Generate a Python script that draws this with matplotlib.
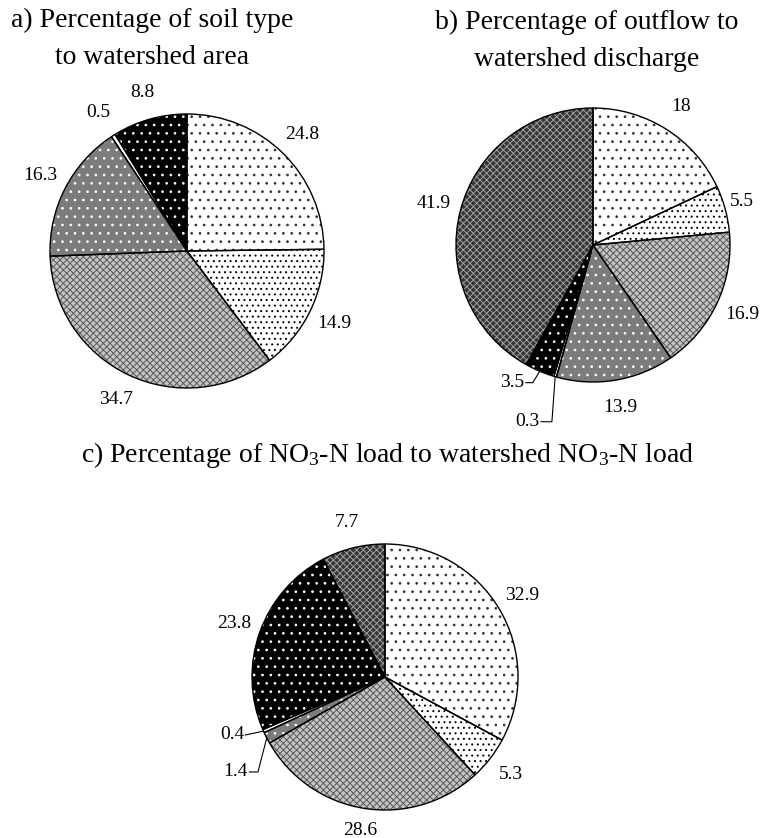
import matplotlib
matplotlib.use("Agg")
import matplotlib.pyplot as plt
import numpy as np

plt.rcParams['font.family'] = ['Liberation Serif', 'DejaVu Serif']
plt.rcParams['mathtext.fontset'] = 'custom'
plt.rcParams['mathtext.rm'] = 'Liberation Serif'
plt.rcParams['mathtext.it'] = 'Liberation Serif:italic'
plt.rcParams['hatch.linewidth'] = 0.7

# shares (%) per soil class, clockwise from 12 o'clock
area_vals = [24.8, 14.9, 34.7, 16.3, 0.5, 8.8]
area_cls = [0, 1, 2, 3, 4, 5]
flow_vals = [18, 5.5, 16.9, 13.9, 0.3, 3.5, 41.9]
flow_cls = [0, 1, 2, 3, 4, 5, 6]
no3_vals = [32.9, 5.3, 28.6, 1.4, 0.4, 23.8, 7.7]
no3_cls = [0, 1, 2, 3, 4, 5, 6]

# fill / hatch / hatch colour for each soil class
fills = ['white', 'white', '#c4c4c4', '#7c7c7c', 'white', 'black', '#363636']
hatches = ['..', '...', 'xxxxx', '..', '', '..', 'xxxxx']
hcolors = ['#303030', 'black', '#5a5a5a', 'white', 'white', 'white', '#a0a0a0']

W, H = 761, 838
fig = plt.figure(figsize=(W / 100, H / 100), dpi=100)
LFS = 14


def pie_axes(cx, cy, r):
    ax = fig.add_axes([(cx - r) / W, (H - cy - r) / H, 2 * r / W, 2 * r / H])
    return ax


def draw_pie(ax, vals, cls, leaders=None, ldist=1.2, shift=None):
    leaders = leaders or {}
    shift = shift or {}
    kw = dict(startangle=90, counterclock=False, radius=1)
    wedges, _ = ax.pie(vals, colors=[fills[c] for c in cls], **kw)
    for w, c in zip(wedges, cls):
        w.set_hatch(hatches[c])
        w.set_edgecolor(hcolors[c])
        w.set_linewidth(0)
    # outlines on top
    outl, _ = ax.pie(vals, **kw, wedgeprops=dict(fill=False, edgecolor='black', linewidth=1.0))
    for i, w in enumerate(outl):
        mid = np.deg2rad((w.theta1 + w.theta2) / 2)
        txt = f"{vals[i]:g}"
        if i in leaders:
            (lx, ly), pts = leaders[i]
            xs = [p[0] for p in pts] + [np.cos(mid)]
            ys = [p[1] for p in pts] + [np.sin(mid)]
            ax.plot(xs, ys, color='black', lw=0.8, clip_on=False)
            ax.text(lx, ly, txt, ha='right', va='center', fontsize=LFS)
        else:
            dx, dy = shift.get(i, (0, 0))
            ax.text(ldist * np.cos(mid) + dx, ldist * np.sin(mid) + dy, txt,
                    ha='center', va='center', fontsize=LFS)
    ax.set_xlim(-1, 1)
    ax.set_ylim(-1, 1)
    ax.set_aspect('equal')
    ax.axis('off')


ax_a = pie_axes(187, 251, 137)
draw_pie(ax_a, area_vals, area_cls)

ax_b = pie_axes(593, 245, 137)
draw_pie(ax_b, flow_vals, flow_cls, leaders={
    4: ((-0.39, -1.29), [(-0.38, -1.29), (-0.30, -1.29)]),
    5: ((-0.50, -1.005), [(-0.49, -1.005), (-0.44, -1.005)]),
}, shift={1: (-0.07, 0)})

ax_c = pie_axes(385, 677, 133)
draw_pie(ax_c, no3_vals, no3_cls, leaders={
    4: ((-1.06, -0.436), [(-1.05, -0.436)]),
    3: ((-1.03, -0.714), [(-1.02, -0.714), (-0.955, -0.714)]),
}, shift={2: (0, 0.03)})

TFS = 20
fig.text(152 / W, 1 - 39 / H, "a) Percentage of soil type\nto watershed area",
         ha='center', va='center', fontsize=TFS, linespacing=1.62)
fig.text(587 / W, 1 - 41 / H, "b) Percentage of outflow to\nwatershed discharge",
         ha='center', va='center', fontsize=TFS, linespacing=1.62)
fig.text(388 / W, 1 - 455 / H,
         "c) Percentage of NO$_3$-N load to watershed NO$_3$-N load",
         ha='center', va='center', fontsize=TFS)

fig.savefig("out.png", dpi=100)
